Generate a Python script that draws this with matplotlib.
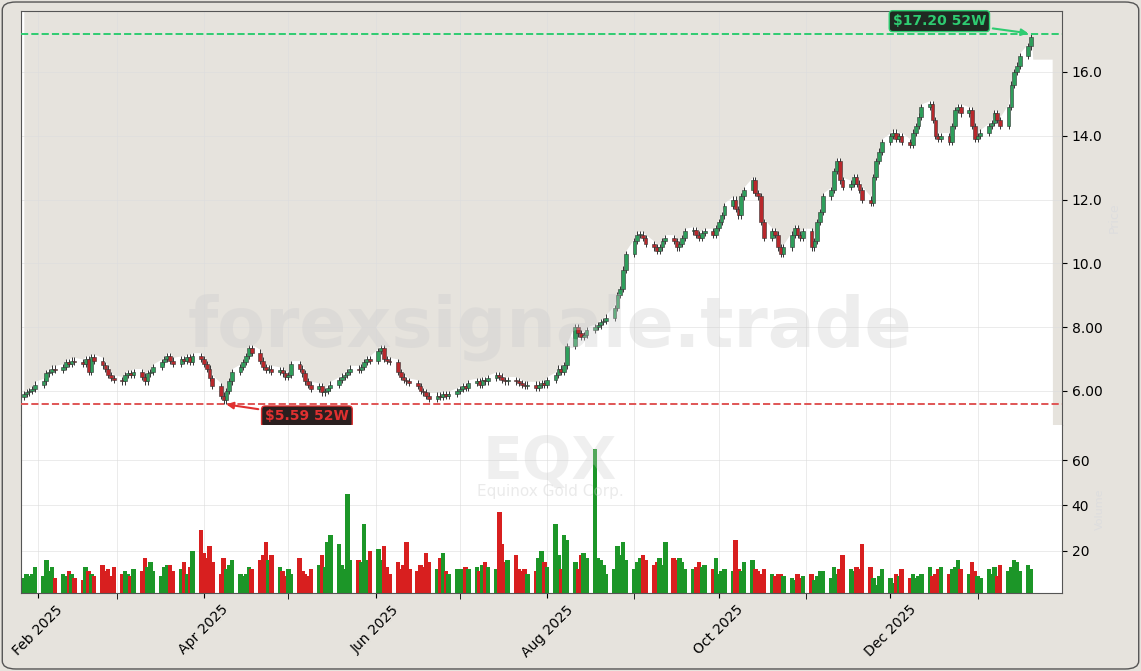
import numpy as np
import pandas as pd
import matplotlib
matplotlib.use("Agg")
import matplotlib.pyplot as plt
import matplotlib.dates as mdates
from matplotlib.patches import FancyBboxPatch

# -------------------------------
# Data
# -------------------------------
close_jan25 = [5.9, 5.95, 6.0, 6.05, 6.2]
close_feb = [6.3, 6.55, 6.6, 6.7, 6.65, 6.75, 6.9, 6.85, 6.95, 6.9, 6.85, 7.0, 6.6, 7.05, 6.95, 6.8, 6.7, 6.5, 6.4, 6.35]
close_mar = [6.3, 6.5, 6.55, 6.5, 6.6, 6.45, 6.3, 6.55, 6.6, 6.75, 6.9, 7.0, 7.1, 6.95, 6.85, 7.0, 6.95, 7.05, 6.9, 7.1, 7.0]
close_apr = [6.85, 6.7, 6.4, 6.15, 5.85, 5.7, 6.0, 6.3, 6.6, 6.75, 6.9, 7.1, 7.35, 7.2, 6.95, 6.75, 6.65, 6.7, 6.6, 6.65, 6.55, 6.45]
close_may = [6.5, 6.85, 6.7, 6.55, 6.3, 6.2, 6.05, 6.15, 5.95, 6.0, 6.1, 6.2, 6.35, 6.45, 6.5, 6.6, 6.7, 6.65, 6.75, 6.9, 7.0, 6.95]
close_jun = [7.25, 7.35, 7.0, 6.95, 6.9, 6.6, 6.45, 6.35, 6.3, 6.25, 6.15, 6.0, 5.95, 5.85, 5.75, 5.85, 5.8, 5.9, 5.85, 5.9, 6.0]
close_jul = [6.05, 6.15, 6.1, 6.25, 6.3, 6.2, 6.35, 6.3, 6.4, 6.5, 6.45, 6.35, 6.3, 6.35, 6.3, 6.25, 6.2, 6.15, 6.2, 6.1, 6.2, 6.25, 6.2]
close_aug = [6.35, 6.5, 6.7, 6.6, 6.8, 7.4, 8.0, 7.8, 7.7, 7.75, 7.9, 8.0, 8.05, 8.15, 8.2, 8.3, 8.6, 9.0, 9.2, 9.8, 10.3]
close_sep = [10.7, 10.9, 10.9, 10.8, 10.6, 10.5, 10.4, 10.5, 10.7, 10.8, 10.7, 10.5, 10.6, 10.8, 11.0, 11.05, 10.9, 10.8, 10.95, 11.0, 10.9, 11.1]
close_oct = [11.3, 11.5, 11.8, 12.0, 11.7, 11.5, 12.1, 12.3, 12.6, 12.2, 12.1, 11.3, 10.8, 11.0, 10.9, 10.5, 10.3, 10.5, 10.9, 11.1, 10.9, 10.8, 11.0]
close_nov = [10.5, 10.7, 11.3, 11.6, 12.1, 12.3, 12.9, 13.2, 12.6, 12.4, 12.5, 12.7, 12.5, 12.3, 12.0, 11.9, 12.7, 13.2, 13.5, 13.8]
close_dec = [14.0, 14.1, 13.9, 14.0, 13.8, 13.7, 14.1, 14.3, 14.6, 14.9, 15.0, 14.5, 14.0, 13.9, 14.0, 13.8, 14.3, 14.8, 14.9, 14.7, 14.8, 14.3, 13.9]
close_jan26 = [14.0, 14.1, 14.3, 14.4, 14.7, 14.5, 14.3, 14.9, 15.6, 16.0, 16.2, 16.5, 16.8, 17.1]

vol_jan25 = [8, 10, 9, 10, 13]
vol_feb = [9, 16, 11, 13, 8, 10, 9, 11, 10, 8, 7, 13, 11, 10, 9, 14, 11, 12, 9, 13]
vol_mar = [10, 11, 10, 9, 12, 11, 17, 13, 15, 11, 9, 13, 14, 14, 11, 12, 15, 10, 13, 20, 29]
vol_apr = [19, 17, 22, 15, 10, 17, 12, 14, 16, 10, 9, 10, 13, 12, 16, 18, 24, 16, 18, 13, 11, 9]
vol_may = [12, 10, 17, 11, 10, 9, 12, 14, 18, 13, 24, 27, 23, 14, 12, 45, 16, 16, 15, 32, 16, 20]
vol_jun = [21, 16, 22, 13, 10, 15, 12, 14, 24, 12, 11, 14, 13, 19, 15, 12, 17, 19, 11, 10, 12]
vol_jul = [12, 12, 13, 12, 13, 11, 14, 15, 13, 12, 37, 23, 15, 16, 18, 12, 11, 12, 10, 11, 17, 20, 15]
vol_aug = [13, 32, 18, 12, 27, 25, 15, 12, 18, 19, 17, 65, 17, 16, 14, 10, 12, 22, 18, 24, 16]
vol_sep = [12, 15, 17, 18, 16, 14, 15, 17, 14, 24, 17, 16, 17, 15, 12, 12, 13, 15, 13, 14, 12, 17]
vol_oct = [10, 11, 12, 11, 25, 12, 11, 15, 16, 12, 11, 10, 12, 10, 9, 10, 10, 9, 8, 7, 10, 8, 9]
vol_nov = [10, 7, 9, 11, 11, 8, 13, 10, 12, 18, 12, 11, 13, 12, 23, 13, 8, 5, 9, 12]
vol_dec = [8, 6, 10, 9, 12, 8, 10, 8, 9, 10, 13, 9, 10, 12, 13, 10, 12, 13, 16, 12, 10, 15, 11]
vol_jan26 = [9, 8, 12, 10, 13, 9, 14, 11, 13, 16, 15, 11, 14, 12]

close = np.array(close_jan25 + close_feb + close_mar + close_apr + close_may + close_jun
                 + close_jul + close_aug + close_sep + close_oct + close_nov + close_dec + close_jan26)
volume = np.array(vol_jan25 + vol_feb + vol_mar + vol_apr + vol_may + vol_jun
                  + vol_jul + vol_aug + vol_sep + vol_oct + vol_nov + vol_dec + vol_jan26)
n = min(len(close), len(volume))
close, volume = close[:n], volume[:n]
dates = pd.bdate_range("2025-01-27", periods=n)

high_52w = 17.20
low_52w = 5.59
price_ticks = [6, 8, 10, 12, 14, 16]
price_labels = ["6.00", "8.00", "10.0", "12.0", "14.0", "16.0"]
vol_ticks = [20, 40, 60]

opens = np.concatenate([[close[0] - 0.1], close[:-1]])
highs = np.maximum(opens, close) + 0.1
lows = np.minimum(opens, close) - 0.1

BG = "#e6e3dd"
UP_C, DN_C = "#2e9e5b", "#b8282c"
VUP, VDN = "#1c9628", "#d81f1f"

# -------------------------------
# Figure
# -------------------------------
fig = plt.figure(figsize=(11.41, 6.71), dpi=100, facecolor=BG)
x0, x1 = 21 / 1141, 1062 / 1141
ax = fig.add_axes([x0, 0.3666, x1 - x0, 0.9836 - 0.3666])
axv = fig.add_axes([x0, 0.1163, x1 - x0, 0.3666 - 0.1163], sharex=ax)
fig.patches.append(FancyBboxPatch((0.002, 0.003), 0.996, 0.994, boxstyle="round,pad=0,rounding_size=0.012",
                                  transform=fig.transFigure, fill=False, ec="#555555", lw=1.0))

xn = mdates.date2num(dates)
xmin = mdates.date2num(pd.Timestamp("2025-01-26"))
xmax = mdates.date2num(pd.Timestamp("2026-01-31"))
ymin, ymax = 4.93, 17.91

# shaded region above price, white pocket right of the last candle
fx = np.concatenate([xn, [xn[-1] + 0.6, xn[-1] + 7.5, xn[-1] + 7.6, xmax]])
fy = np.concatenate([highs, [highs[-1] - 0.8, highs[-1] - 0.8, ymin, ymin]])
ax.fill_between(fx, fy, ymax, color=BG, zorder=0, lw=0)

# candles
for xi, o, h, l, c in zip(xn, opens, highs, lows, close):
    col = UP_C if c >= o else DN_C
    ax.vlines(xi, l, h, color="#333333", lw=0.7, zorder=2)
    ax.bar(xi, max(abs(c - o), 0.03), bottom=min(o, c), width=1.3, color=col,
           edgecolor="#333333", lw=0.4, zorder=3)

ax.axhline(high_52w, color="#2ecc71", ls="--", lw=1.4, zorder=4)
ax.axhline(low_52w, color="#e05555", ls="--", lw=1.4, zorder=4)

ih = int(np.argmax(highs))
ax.annotate(f"${high_52w:.2f} 52W", xy=(xn[ih], high_52w), xytext=(-66, 9), textcoords="offset points",
            ha="center", va="center", color="#2ecc71", fontsize=10, fontweight="bold",
            bbox=dict(boxstyle="round,pad=0.25", fc="#1f2a22", ec="#2ecc71", lw=1),
            arrowprops=dict(arrowstyle="-|>", color="#2ecc71", lw=1.5), zorder=6)
il = int(np.argmin(lows))
ax.annotate(f"${low_52w:.2f} 52W", xy=(xn[il], low_52w), xytext=(60, -9), textcoords="offset points",
            ha="center", va="center", color="#e03030", fontsize=10, fontweight="bold",
            bbox=dict(boxstyle="round,pad=0.25", fc="#2a1f1f", ec="#e03030", lw=1),
            arrowprops=dict(arrowstyle="-|>", color="#e03030", lw=1.5), zorder=6)

ax.set_xlim(xmin, xmax)
ax.set_ylim(ymin, ymax)
ax.yaxis.tick_right()
ax.set_yticks(price_ticks)
ax.set_yticklabels(price_labels, fontsize=10)
ax.set_ylabel("Price", color="#dddddd", fontsize=9)
ax.yaxis.set_label_position("right")
ax.tick_params(axis="x", labelbottom=False, length=0)
ax.spines["bottom"].set_visible(False)

# volume
vcol = [VUP if c >= o else VDN for o, c in zip(opens, close)]
axv.bar(xn, volume, width=1.6, color=vcol, zorder=2)
axv.set_ylim(1.5, 75.4)
axv.yaxis.tick_right()
axv.set_yticks(vol_ticks)
axv.tick_params(axis="y", labelsize=10)
axv.set_ylabel("Volume", color="#dddddd", fontsize=8)
axv.yaxis.set_label_position("right")
axv.spines["top"].set_visible(False)

for a in (ax, axv):
    a.set_facecolor("white")
    for s in a.spines.values():
        s.set_color("#555555")
    a.xaxis.set_major_locator(mdates.MonthLocator(bymonth=[2, 4, 6, 8, 10, 12]))
    a.xaxis.set_minor_locator(mdates.MonthLocator())
    a.grid(True, which="both", color="#dddddd", lw=0.6, alpha=0.7, zorder=0)
    a.set_axisbelow(True)

axv.xaxis.set_major_formatter(mdates.DateFormatter("%b %Y"))
axv.tick_params(axis="x", which="minor", length=4)
plt.setp(axv.get_xticklabels(), rotation=45, ha="center", fontsize=10)

# watermarks
fig.text(0.482, 0.512, "forexsignale.trade", fontsize=50, fontweight="bold", color="#cccccc",
         alpha=0.35, ha="center", va="center")
fig.text(0.482, 0.311, "EQX", fontsize=42, fontweight="bold", color="#cccccc", alpha=0.3,
         ha="center", va="center")
fig.text(0.482, 0.268, "Equinox Gold Corp.", fontsize=11, color="#cccccc", alpha=0.4,
         ha="center", va="center")

fig.savefig("out.png", dpi=100, facecolor=BG)
